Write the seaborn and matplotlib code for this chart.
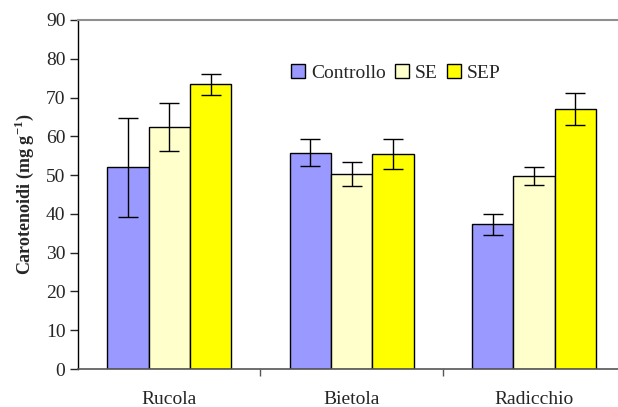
import matplotlib
matplotlib.use("Agg")
import matplotlib.pyplot as plt
import seaborn as sns
import pandas as pd
import numpy as np

categories = ["Rucola", "Bietola", "Radicchio"]
treatments = ["Controllo", "SE", "SEP"]
controllo = [52.0, 55.8, 37.3]
se = [62.5, 50.3, 49.7]
sep = [73.4, 55.4, 67.1]
err_controllo = [12.7, 3.5, 2.7]
err_se = [6.2, 3.2, 2.3]
err_sep = [2.8, 3.9, 4.2]
colors = ["#9999FF", "#FFFFCC", "#FFFF00"]

sns.set_style("white")
plt.rcParams["font.family"] = ["Liberation Serif", "DejaVu Serif"]
plt.rcParams["mathtext.fontset"] = "custom"
plt.rcParams["mathtext.rm"] = "Liberation Serif"
plt.rcParams["mathtext.bf"] = "Liberation Serif:bold"

rows = []
for vals, errs, t in [(controllo, err_controllo, "Controllo"), (se, err_se, "SE"), (sep, err_sep, "SEP")]:
    for c, v, e in zip(categories, vals, errs):
        rows.append({"cat": c, "treat": t, "val": v, "err": e})
df = pd.DataFrame(rows)

fig = plt.figure(figsize=(6.18, 4.07), dpi=100)
ax = fig.add_axes([78/618, 38/407, 540/618, 349/407])

sns.barplot(data=df, x="cat", y="val", hue="treat", order=categories,
            hue_order=treatments, palette=colors, errorbar=None,
            width=0.68, gap=0, edgecolor="black", linewidth=1.0,
            saturation=1, ax=ax, legend=True)

# error bars from patch positions
for i, t in enumerate(treatments):
    cont = ax.containers[i]
    sub = df[df.treat == t].set_index("cat").loc[categories]
    xs = [p.get_x() + p.get_width() / 2 for p in cont.patches]
    ax.errorbar(xs, sub["val"].values, yerr=sub["err"].values, fmt="none",
                ecolor="black", elinewidth=1.0, capsize=7.5, capthick=1.0, zorder=5)

ax.set_ylim(0, 90)
ax.set_yticks(np.arange(0, 91, 10))
ax.set_xlim(-0.5, 2.46)
ax.set_xlabel("")
ax.set_ylabel("Carotenoidi (mg g$^{\\mathbf{-1}}$)", fontsize=13, fontweight="bold", labelpad=7)
ax.tick_params(axis="y", left=True, direction="out", length=6, width=1, labelsize=14, pad=3)
ax.set_xticks([0, 1, 2])
ax.set_xticklabels(categories, fontsize=14)
ax.tick_params(axis="x", bottom=False, pad=12)
ax.set_xticks([0.5, 1.5], minor=True)
ax.tick_params(axis="x", which="minor", bottom=True, direction="out", length=5, width=1, color="#555555")

ax.spines["left"].set_color("black")
ax.spines["left"].set_linewidth(1.0)
ax.spines["bottom"].set_color("#555555")
ax.spines["bottom"].set_linewidth(1.2)
ax.spines["top"].set_color("#909090")
ax.spines["top"].set_linewidth(1.5)
ax.spines["right"].set_visible(False)

handles, labels = ax.get_legend_handles_labels()
ax.legend(handles, labels, ncol=3, frameon=False, fontsize=14,
          loc="center", bbox_to_anchor=(396/618, 1 - 73/407), bbox_transform=fig.transFigure,
          handlelength=0.7, handleheight=0.7, handletextpad=0.3, columnspacing=0.5)

fig.savefig("out.png", dpi=100)
